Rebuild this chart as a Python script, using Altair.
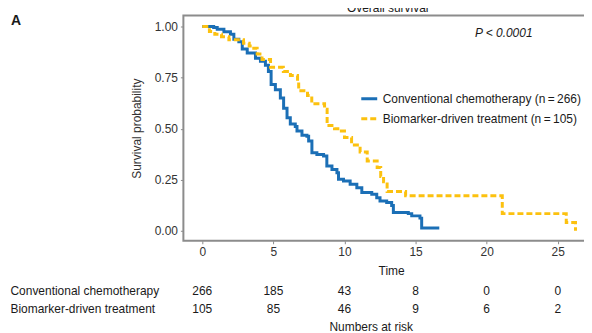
import altair as alt
import pandas as pd

# ---- data ----
groups = ["Conventional chemotherapy", "Biomarker-driven treatment"]
group_n = [266, 105]

conv_t = [0, 0.8, 1.05, 1.52, 1.98, 2.22, 2.57, 2.81, 3.16, 3.74, 4.09, 4.44, 4.65,
          4.84, 5.14, 5.49, 5.72, 5.96, 6.19, 6.54, 6.66, 7.01, 7.36, 7.48, 7.71,
          8.06, 8.53, 8.76, 9.12, 9.47, 9.58, 9.93, 10.4, 10.87, 11.22, 11.92,
          12.27, 12.5, 12.97, 13.32, 13.44, 14.49, 14.73, 15.31, 15.43, 16.67]
conv_s = [1.0, 0.995, 0.987, 0.974, 0.962, 0.938, 0.925, 0.89, 0.87, 0.845, 0.83, 0.81, 0.78,
          0.716, 0.69, 0.65, 0.60, 0.553, 0.523, 0.51, 0.488, 0.468, 0.463, 0.44, 0.382,
          0.374, 0.366, 0.317, 0.30, 0.284, 0.252, 0.244, 0.228, 0.211, 0.187, 0.179,
          0.162, 0.146, 0.138, 0.124, 0.089, 0.084, 0.073, 0.062, 0.014, 0.014]

bio_t = [0, 0.5, 0.88, 1.35, 1.87, 2.9, 3.3, 3.62, 3.86, 4.2, 4.8, 5.7, 6.2, 6.7, 6.78,
         7.4, 7.7, 8.6, 8.78, 9.3, 9.65, 10.0, 10.5, 11.1, 11.6, 12.3, 12.55, 12.75,
         13.0, 14.3, 21.1, 25.6, 26.25]
bio_s = [1.0, 0.975, 0.962, 0.95, 0.935, 0.918, 0.905, 0.893, 0.865, 0.838, 0.80, 0.78, 0.76,
         0.73, 0.685, 0.662, 0.622, 0.595, 0.515, 0.50, 0.488, 0.457, 0.42, 0.386, 0.342,
         0.31, 0.266, 0.24, 0.192, 0.171, 0.084, 0.040, 0.0]

risk_times = [0, 5, 10, 15, 20, 25]
risk_conv = [266, 185, 43, 8, 0, 0]
risk_bio = [105, 85, 46, 9, 6, 2]

x_ticks = [0, 5, 10, 15, 20, 25]
y_ticks = [0.0, 0.25, 0.5, 0.75, 1.0]

p_text = ["P < 0.0001"]
p_pos_t = [21.2]
p_pos_s = [0.967]

panel_label = ["A"]
title_text = ["Overall survival"]

# ---- tables ----
legend_labels = [f"{g} (n\u2009=\u2009{n})" for g, n in zip(groups, group_n)]
km = pd.concat([
    pd.DataFrame({"time": conv_t, "surv": conv_s, "label": legend_labels[0]}),
    pd.DataFrame({"time": bio_t, "surv": bio_s, "label": legend_labels[1]}),
])
risk = pd.concat([
    pd.DataFrame({"time": risk_times, "n": risk_conv, "group": groups[0]}),
    pd.DataFrame({"time": risk_times, "n": risk_bio, "group": groups[1]}),
])
annot = pd.DataFrame({"t": p_pos_t, "s": p_pos_s, "txt": p_text})

BLUE = "#1b6fb6"
YELLOW = "#fcc10f"
FONT = "Liberation Sans"
GRAY = "#8c8c8c"
TXT = "#333333"

W = 417
xscale = alt.Scale(domain=[-1.33, 27.9], nice=False, zero=False)
yscale = alt.Scale(domain=[-0.0488, 1.0537], nice=False, zero=False)

leg = alt.Legend(title=None, orient="none", legendX=177, legendY=74,
                 symbolType="stroke", symbolStrokeWidth=3, symbolSize=256,
                 labelFontSize=12, labelFont=FONT, labelColor="#1a1a1a",
                 rowPadding=4, padding=0, labelOffset=4, labelLimit=300)

lines = alt.Chart(km).mark_line(interpolate="step-after", strokeWidth=3).encode(
    x=alt.X("time:Q", scale=xscale,
            axis=alt.Axis(values=x_ticks, title="Time", grid=False, domain=False,
                          tickSize=3, tickColor=GRAY, labelFontSize=12, labelFont=FONT,
                          labelColor=TXT, labelPadding=3, titleFontSize=12,
                          titleFont=FONT, titleFontWeight="normal", titleColor="#1a1a1a",
                          titlePadding=8)),
    y=alt.Y("surv:Q", scale=yscale,
            axis=alt.Axis(values=y_ticks, format=".2f", title="Survival probability",
                          grid=False, domain=False, tickSize=3, tickColor=GRAY,
                          labelFontSize=12, labelFont=FONT, labelColor=TXT,
                          labelPadding=3, titleFontSize=12, titleFont=FONT,
                          titleFontWeight="normal", titleColor=TXT, titlePadding=11)),
    color=alt.Color("label:N", scale=alt.Scale(domain=legend_labels, range=[BLUE, YELLOW]),
                    legend=leg),
    strokeDash=alt.StrokeDash("label:N",
                              scale=alt.Scale(domain=legend_labels, range=[[1, 0], [6, 3]]),
                              legend=leg),
)

ptext = alt.Chart(annot).mark_text(fontStyle="italic", fontSize=12, font=FONT,
                                   color="#1a1a1a", align="center", baseline="middle").encode(
    x=alt.X("t:Q", scale=xscale), y=alt.Y("s:Q", scale=yscale), text="txt:N")

alabel = alt.Chart(pd.DataFrame({"txt": panel_label})).mark_text(
    fontSize=14, fontWeight="bold", font=FONT, color="#1a1a1a", align="left",
    baseline="alphabetic").encode(x=alt.value(-173), y=alt.value(9), text="txt:N")

ttl = alt.Chart(pd.DataFrame({"txt": title_text})).mark_text(
    fontSize=12, font=FONT, color="#1a1a1a", align="center",
    baseline="alphabetic").encode(x=alt.value(205), y=alt.value(-4), text="txt:N")

top = alt.layer(lines, ptext, alabel, ttl).properties(
    width=W, height=226,
    view=alt.ViewBackground(stroke=GRAY, strokeWidth=2))

bottom = alt.Chart(risk).mark_text(fontSize=12, font=FONT, color="#1a1a1a").encode(
    x=alt.X("time:Q", scale=xscale,
            axis=alt.Axis(labels=False, ticks=False, domain=False, grid=False,
                          title="Numbers at risk", titleX=188, titleFontSize=12,
                          titleFont=FONT, titleFontWeight="normal", titleColor="#1a1a1a",
                          titlePadding=4)),
    y=alt.Y("group:N", sort=groups,
            scale=alt.Scale(domain=groups, paddingInner=0, paddingOuter=0),
            axis=alt.Axis(title=None, labelAlign="left", labelPadding=174, ticks=False,
                          domain=False, grid=False, labelFontSize=12, labelFont=FONT,
                          labelColor="#1a1a1a", labelLimit=300)),
    text="n:Q",
).properties(width=W, height=36,
             view=alt.ViewBackground(stroke="transparent"))

chart = alt.vconcat(top, bottom, spacing=3).properties(
    padding={"left": 1, "top": -8, "right": -16, "bottom": 0}
).configure(font=FONT)

chart.save("out.html", embed_options={"renderer": "svg", "actions": False})
